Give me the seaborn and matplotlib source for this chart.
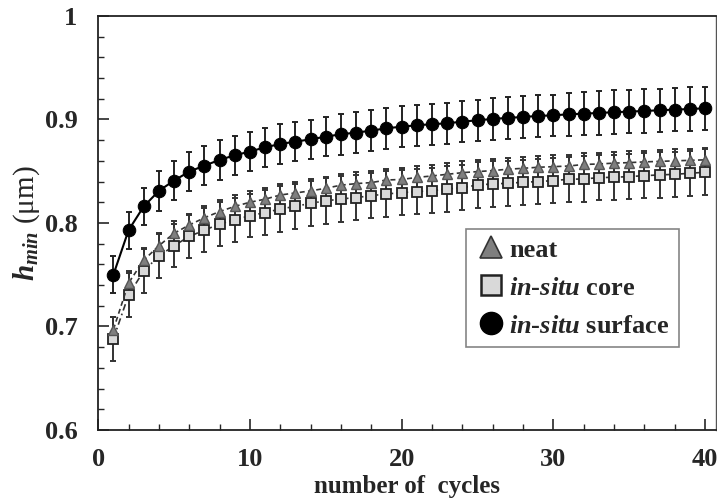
import numpy as np
import pandas as pd
import matplotlib
matplotlib.use("Agg")
import matplotlib.pyplot as plt
from matplotlib.lines import Line2D
from matplotlib.ticker import MultipleLocator
import seaborn as sns

cycles = list(range(1, 41))

neat = [0.697, 0.742, 0.764, 0.778, 0.790, 0.798, 0.805, 0.811, 0.816, 0.820,
        0.823, 0.827, 0.829, 0.831, 0.8335, 0.8365, 0.838, 0.839, 0.8415, 0.842,
        0.844, 0.8454, 0.847, 0.8486, 0.8496, 0.8506, 0.8519, 0.8528, 0.8538, 0.8544,
        0.855, 0.8565, 0.857, 0.8578, 0.8583, 0.859, 0.8595, 0.860, 0.8605, 0.861]
neat_err = [0.012] * 5 + [0.011] * 35

core = [0.688, 0.7304, 0.7536, 0.768, 0.778, 0.787, 0.793, 0.799, 0.803, 0.807,
        0.810, 0.8135, 0.816, 0.819, 0.8213, 0.8232, 0.8245, 0.8264, 0.828, 0.8293,
        0.8303, 0.8312, 0.8329, 0.8341, 0.8367, 0.8377, 0.8383, 0.8393, 0.840, 0.8409,
        0.8422, 0.8425, 0.8438, 0.8441, 0.8448, 0.8457, 0.8464, 0.847, 0.848, 0.849]
core_err = [0.021] * 10 + [0.022] * 30

surface = [0.750, 0.793, 0.816, 0.831, 0.841, 0.8496, 0.8554, 0.8609, 0.8654, 0.869,
           0.8731, 0.8763, 0.8786, 0.8808, 0.8834, 0.8857, 0.8873, 0.8892, 0.8915, 0.893,
           0.8944, 0.8954, 0.8963, 0.8979, 0.8992, 0.9005, 0.9015, 0.9024, 0.9034, 0.904,
           0.905, 0.9056, 0.9063, 0.907, 0.9076, 0.9082, 0.9089, 0.9095, 0.9101, 0.9108]
surface_err = [0.018] * 3 + [0.019] * 12 + [0.020] * 15 + [0.021] * 10

x_ticks = [0, 10, 20, 30, 40]
y_ticks = [0.6, 0.7, 0.8, 0.9, 1.0]
y_tick_labels = ["0.6", "0.7", "0.8", "0.9", "1"]

sns.set_style("white")
plt.rcParams["font.family"] = ["Liberation Serif", "DejaVu Serif"]
plt.rcParams["mathtext.fontset"] = "custom"
plt.rcParams["mathtext.it"] = "Liberation Serif:italic:bold"
plt.rcParams["mathtext.rm"] = "Liberation Serif:bold"
plt.rcParams["mathtext.bf"] = "Liberation Serif:bold"

fig = plt.figure(figsize=(7.17, 5.04), dpi=100)
ax = fig.add_axes([0.137, 0.147, 0.8616, 0.8213])

df = pd.DataFrame({"cycles": cycles, "neat": neat, "core": core, "surface": surface})

# error bars
ax.errorbar(cycles, core, yerr=core_err, fmt="none", ecolor="#333333",
            elinewidth=1.4, capsize=2.5, capthick=1.4, zorder=2)
ax.errorbar(cycles, neat, yerr=neat_err, fmt="none", ecolor="#333333",
            elinewidth=1.4, capsize=2.5, capthick=1.4, zorder=2)
ax.errorbar(cycles, surface, yerr=surface_err, fmt="none", ecolor="#222222",
            elinewidth=1.4, capsize=2.5, capthick=1.4, zorder=2)

sns.lineplot(data=df, x="cycles", y="core", ax=ax, color="#333333", lw=1.2,
             linestyle=(0, (4, 2, 1, 2)), marker="s", markersize=7.5,
             markerfacecolor="#d9d9d9", markeredgecolor="#222222",
             markeredgewidth=1.3, zorder=3)
sns.lineplot(data=df, x="cycles", y="neat", ax=ax, color="#333333", lw=1.2,
             linestyle=(0, (3, 2)), marker="^", markersize=7.5,
             markerfacecolor="#7f7f7f", markeredgecolor="#555555",
             markeredgewidth=1.0, zorder=4)
sns.lineplot(data=df, x="cycles", y="surface", ax=ax, color="black", lw=1.5,
             linestyle="-", marker="o", markersize=9,
             markerfacecolor="black", markeredgecolor="black", zorder=5)

ax.set_xlim(0, 40.72)
ax.set_ylim(0.6, 1.0)
ax.set_xticks(x_ticks)
ax.set_yticks(y_ticks)
ax.set_yticklabels(y_tick_labels)
ax.xaxis.set_minor_locator(MultipleLocator(2))
ax.yaxis.set_minor_locator(MultipleLocator(0.02))
ax.tick_params(axis="both", which="major", direction="in", length=8, width=1.2,
               labelsize=19, bottom=True, left=True, top=False, right=False)
ax.tick_params(axis="x", which="major", pad=13)
ax.tick_params(axis="y", which="major", pad=15)
ax.tick_params(axis="both", which="minor", direction="in", length=4.5, width=1.0,
               bottom=True, left=True, top=False, right=False)
for lab in ax.get_xticklabels() + ax.get_yticklabels():
    lab.set_fontweight("bold")

for side in ["left", "bottom", "top"]:
    ax.spines[side].set_color("#222222")
    ax.spines[side].set_linewidth(1.3)
ax.spines["right"].set_color("#555555")
ax.spines["right"].set_linewidth(1.0)

ax.set_xlabel("number of  cycles", fontsize=18, fontweight="bold", labelpad=3)
ax.set_ylabel(r"$h_{min}$" + " (μm)", fontsize=21, labelpad=2)
ax.yaxis.label.set_fontweight("normal")

handles = [
    Line2D([], [], linestyle="none", marker="^", markersize=16,
           markerfacecolor="#7f7f7f", markeredgecolor="#333333", markeredgewidth=1.2),
    Line2D([], [], linestyle="none", marker="s", markersize=14,
           markerfacecolor="#d9d9d9", markeredgecolor="#222222", markeredgewidth=1.8),
    Line2D([], [], linestyle="none", marker="o", markersize=16,
           markerfacecolor="black", markeredgecolor="black"),
]
labels = ["neat", r"$in$-$situ$ core", r"$in$-$situ$ surface"]
leg = ax.legend(handles, labels, loc="upper left", bbox_to_anchor=(0.595, 0.4855),
                borderaxespad=0, frameon=True, fancybox=False,
                handletextpad=0.1, handlelength=1.2, labelspacing=0.55,
                borderpad=0.35, prop={"size": 19, "weight": "bold"})
leg.get_frame().set_edgecolor("#666666")
leg.get_frame().set_linewidth(1.2)

fig.savefig("out.png", dpi=100)
